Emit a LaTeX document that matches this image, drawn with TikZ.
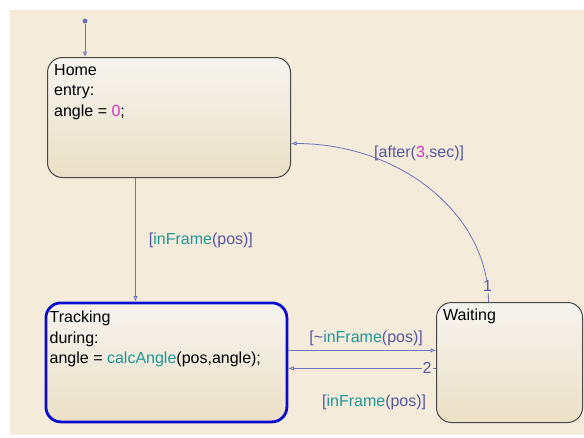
\documentclass[tikz,border=0pt]{standalone}
\usepackage{fontspec}
\setmainfont{Liberation Sans}
\usepackage{xcolor}
\usetikzlibrary{arrows.meta}
\usetikzlibrary{calc}
\definecolor{sfbg}{RGB}{245,235,218}
\definecolor{sftop}{RGB}{246,244,239}
\definecolor{sfbot}{RGB}{235,224,198}
\definecolor{sfedge}{RGB}{70,70,70}
\definecolor{sfline}{RGB}{110,115,185}
\definecolor{sflabel}{RGB}{85,88,160}
\definecolor{sfteal}{RGB}{30,150,150}
\definecolor{sfmag}{RGB}{215,50,200}
\definecolor{sfblue}{RGB}{10,10,205}
\newcommand{\sffn}[1]{\textcolor{sfteal}{#1}}
\newcommand{\sfnum}[1]{\textcolor{sfmag}{#1}}

\begin{document}
\begin{tikzpicture}[x=1pt, y=-1pt,
    state/.style={draw=sfedge, line width=1pt, rounded corners=15pt, top color=sftop, bottom color=sfbot, inner sep=0pt, anchor=north west},
    active/.style={state, draw=sfblue, line width=2.8pt},
    stext/.style={anchor=north west, inner sep=0pt, align=left, font=\fontsize{16}{20.5}\selectfont, text=black},
    trans/.style={draw=sfline, line width=0.8pt, -{Latex[open, length=5.5pt, width=4.5pt]}},
    tlabel/.style={inner sep=0pt, font=\fontsize{16}{19}\selectfont, text=sflabel},
    order/.style={tlabel, fill=sfbg, inner sep=1pt},
]
    \useasboundingbox (0,0) rectangle (584,437);
    \fill[sfbg] (10,10) rectangle (584,435);

    % states
    \node[state, minimum width=243pt, minimum height=120pt] (home) at (47,57) {};
    \node[active, minimum width=241pt, minimum height=119pt] (tracking) at (44.5,301.5) {};
    \node[state, minimum width=146pt, minimum height=120pt] (waiting) at (436,302) {};

    \node[stext] (hometext) at ([xshift=7pt,yshift=-7pt]home.north west)
        {Home\\entry:\\angle = \sfnum{0};};
    \node[stext] (trackingtext) at ([xshift=5pt,yshift=-9.5pt]tracking.north west)
        {Tracking\\during:\\angle = \sffn{calcAngle}(pos,angle);};
    \node[stext] (waitingtext) at ([xshift=7pt,yshift=-7pt]waiting.north west) {Waiting};

    % default transition
    \node[circle, fill=sfline, inner sep=0pt, minimum size=5pt] (init) at (85,21) {};
    \draw[trans] (init) -- (init |- home.north);

    % transitions
    \draw[trans] ([xshift=-33.5pt]home.south) -- ([xshift=-33.5pt]home.south |- tracking.north)
        node[tlabel, midway, anchor=west, xshift=13pt, yshift=-1pt] (lbl1) {[\sffn{inFrame}(pos)]};

    \draw[trans] ([xshift=-21pt]waiting.north) .. controls +(0,-88) and +(109,0) .. ([yshift=-26pt]home.east)
        node[order, pos=0.06] (ord1) {1}
        node[tlabel, pos=0.75, anchor=west, xshift=6pt, yshift=2.5pt] (lbl2) {[after(\sfnum{3},sec)]};

    \draw[trans] ([yshift=12pt]tracking.east) -- ([yshift=12pt]tracking.east -| waiting.west)
        node[tlabel, midway, anchor=south, xshift=4pt, yshift=4pt] (lbl3) {[\textasciitilde\sffn{inFrame}(pos)]};

    \draw[trans] ([yshift=-6pt]tracking.east -| waiting.west) -- ([yshift=-6pt]tracking.east)
        node[order, pos=0.06] (ord2) {2}
        node[tlabel, midway, anchor=north, xshift=12pt, yshift=-26pt] (lbl4) {[\sffn{inFrame}(pos)]};

\end{tikzpicture}
\end{document}
